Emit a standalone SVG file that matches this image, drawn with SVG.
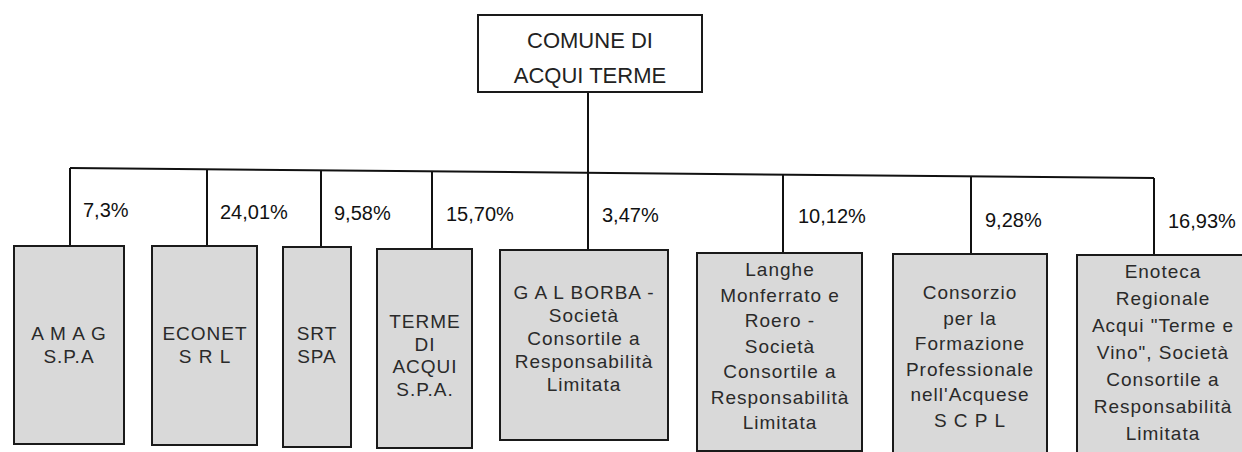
<svg xmlns="http://www.w3.org/2000/svg" width="1242" height="452" viewBox="0 0 1242 452">
<style>
.bg{fill:#ffffff}
.top{fill:#ffffff;stroke:#1a1a1a;stroke-width:2}
.box{fill:#d9d9d9;stroke:#1a1a1a;stroke-width:2}
.ln{fill:none;stroke:#111;stroke-width:2}
.pct{font-family:"Liberation Sans",Arial,sans-serif;font-size:20px;fill:#111}
.ttl{font-family:"Liberation Sans",Arial,sans-serif;font-size:22px;fill:#222;text-anchor:middle}
.lbl{font-family:"Liberation Sans",Arial,sans-serif;font-size:19px;letter-spacing:1px;fill:#2a2a2a;text-anchor:middle}
</style>
<rect class="bg" x="0" y="0" width="1242" height="452"/>
<g id="connectors">
<path class="ln" d="M70,168 L1154,178"/>
<path class="ln" d="M588,92 L588,250"/>
<path class="ln" d="M70,168 L70,246"/>
<path class="ln" d="M207,169.3 L207,246"/>
<path class="ln" d="M321,170.3 L321,247"/>
<path class="ln" d="M432,171.3 L432,249"/>
<path class="ln" d="M783,174.6 L783,253"/>
<path class="ln" d="M971,176.3 L971,254"/>
<path class="ln" d="M1154,178 L1154,255"/>
</g>
<g id="percentages">
<text class="pct" x="83" y="217">7,3%</text>
<text class="pct" x="220" y="219">24,01%</text>
<text class="pct" x="334" y="220">9,58%</text>
<text class="pct" x="446" y="221">15,70%</text>
<text class="pct" x="602" y="222">3,47%</text>
<text class="pct" x="798" y="223">10,12%</text>
<text class="pct" x="985" y="227">9,28%</text>
<text class="pct" x="1168" y="228">16,93%</text>
</g>
<g id="comune">
<rect class="top" x="478" y="15" width="224" height="77"/>
<text class="ttl" x="590" y="48">COMUNE DI</text>
<text class="ttl" x="590" y="83">ACQUI TERME</text>
</g>
<g id="amag">
<rect class="box" x="14" y="246" width="110" height="198"/>
<text class="lbl" x="69" y="340">A M A G</text>
<text class="lbl" x="69" y="363">S.P.A</text>
</g>
<g id="econet">
<rect class="box" x="152" y="246" width="105" height="199"/>
<text class="lbl" x="205" y="340">ECONET</text>
<text class="lbl" x="205" y="363">S R L</text>
</g>
<g id="srt">
<rect class="box" x="283" y="247" width="68" height="200"/>
<text class="lbl" x="317" y="340">SRT</text>
<text class="lbl" x="317" y="363">SPA</text>
</g>
<g id="terme">
<rect class="box" x="377" y="249" width="95" height="199"/>
<text class="lbl" x="425" y="328">TERME</text>
<text class="lbl" x="425" y="351">DI</text>
<text class="lbl" x="425" y="373">ACQUI</text>
<text class="lbl" x="425" y="396">S.P.A.</text>
</g>
<g id="gal">
<rect class="box" x="500" y="250" width="168" height="190"/>
<text class="lbl" x="584" y="299">G A L  BORBA -</text>
<text class="lbl" x="584" y="322">Società</text>
<text class="lbl" x="584" y="345">Consortile a</text>
<text class="lbl" x="584" y="368">Responsabilità</text>
<text class="lbl" x="584" y="391">Limitata</text>
</g>
<g id="langhe">
<rect class="box" x="697" y="253" width="165" height="198"/>
<text class="lbl" x="780" y="276">Langhe</text>
<text class="lbl" x="780" y="301.5">Monferrato e</text>
<text class="lbl" x="780" y="327">Roero -</text>
<text class="lbl" x="780" y="352.5">Società</text>
<text class="lbl" x="780" y="378">Consortile a</text>
<text class="lbl" x="780" y="403.5">Responsabilità</text>
<text class="lbl" x="780" y="429">Limitata</text>
</g>
<g id="consorzio">
<rect class="box" x="893" y="254" width="154" height="200"/>
<text class="lbl" x="970" y="299">Consorzio</text>
<text class="lbl" x="970" y="324.5">per la</text>
<text class="lbl" x="970" y="350">Formazione</text>
<text class="lbl" x="970" y="375.5">Professionale</text>
<text class="lbl" x="970" y="401">nell'Acquese</text>
<text class="lbl" x="970" y="426.5">S C P L</text>
</g>
<g id="enoteca">
<rect class="box" x="1077" y="255" width="170" height="200"/>
<text class="lbl" x="1163" y="278">Enoteca</text>
<text class="lbl" x="1163" y="305">Regionale</text>
<text class="lbl" x="1163" y="332">Acqui "Terme e</text>
<text class="lbl" x="1163" y="359">Vino", Società</text>
<text class="lbl" x="1163" y="386">Consortile a</text>
<text class="lbl" x="1163" y="413">Responsabilità</text>
<text class="lbl" x="1163" y="440">Limitata</text>
</g>
</svg>
